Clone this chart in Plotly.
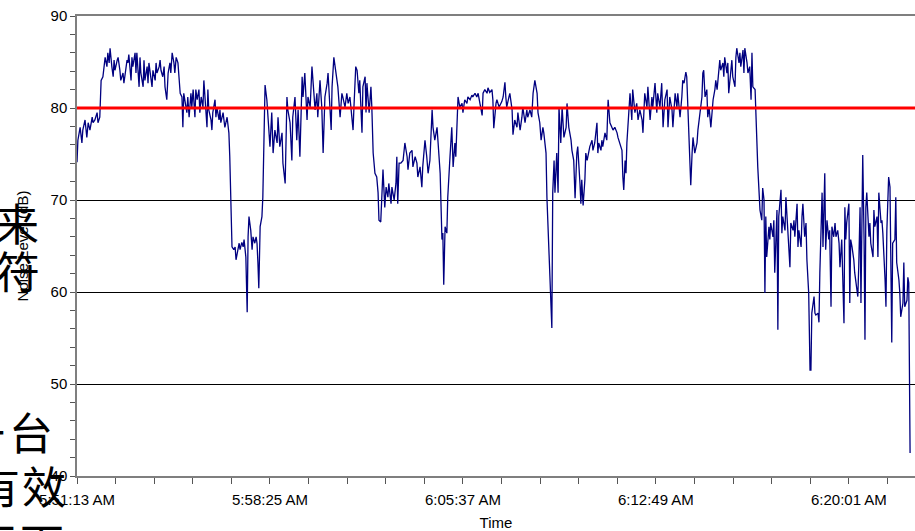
import pandas as pd
import plotly.graph_objects as go

# Noise logger readings: seconds after the first sample, and level in dB
elapsed_s = [
    0, 2, 7, 11, 13, 18, 22, 25, 29, 34, 36, 40, 45, 47, 51, 54, 58, 60, 63, 67,
    69, 72, 74, 78, 81, 83, 85, 90, 92, 96, 98, 103, 105, 107, 112, 114, 116, 121, 123, 125,
    130, 132, 134, 139, 141, 143, 148, 150, 152, 157, 159, 161, 166, 168, 170, 175, 177, 179, 184, 186,
    188, 192, 195, 197, 201, 204, 208, 210, 213, 217, 219, 222, 226, 228, 231, 235, 237, 239, 242, 246,
    248, 251, 255, 257, 260, 264, 266, 269, 273, 275, 278, 282, 284, 287, 291, 293, 295, 300, 302, 304,
    309, 311, 313, 318, 320, 322, 327, 329, 331, 336, 338, 340, 342, 345, 347, 351, 354, 356, 360, 363,
    365, 369, 372, 374, 378, 381, 383, 385, 389, 392, 394, 398, 401, 403, 405, 407, 410, 414, 416, 419,
    421,
    425, 428, 432, 436, 439, 443, 448, 450, 454, 459, 461, 466, 470, 472, 477, 481, 483, 488, 492, 495,
    499, 504, 506, 510, 515, 517, 522, 526, 528, 533, 537, 539, 544, 548, 551, 555, 560, 562, 569, 571,
    575, 580, 584, 589, 593, 595, 600, 604, 607, 611, 618, 620, 624, 627, 631, 633, 638, 640, 645, 647,
    649, 654, 658, 660, 663, 667, 671, 674, 676, 680, 683, 685, 689, 692, 696, 698, 703, 705, 710, 714,
    716, 718, 721, 725, 730, 734, 739, 741, 745, 750, 752, 757, 761, 763, 768, 772, 774, 779, 783, 786,
    790, 795, 797, 801, 806, 808, 813, 817, 819, 821, 824, 828, 830, 835, 839, 842, 846, 848, 851, 853,
    857,
    862, 864, 868, 873, 875, 880, 884, 886, 891, 895, 898, 902, 907, 909, 913, 918, 920, 924, 929, 931,
    933, 938, 940, 945, 951, 954, 958, 960, 962, 967, 969, 974, 976, 980, 985, 987, 992, 996, 998, 1003,
    1007, 1009, 1014, 1018, 1021, 1025, 1030, 1032, 1036, 1039, 1043, 1045, 1050, 1052, 1056, 1059, 1063, 1065, 1068, 1070,
    1074, 1077, 1079, 1083, 1086, 1090, 1095, 1097, 1101, 1106, 1108, 1112, 1115, 1119, 1121, 1126, 1128, 1130, 1133, 1137,
    1139, 1142, 1146, 1148, 1153, 1155, 1159, 1164, 1166, 1168, 1173, 1175, 1177, 1182, 1186, 1189, 1193, 1197, 1200, 1204,
    1209, 1211, 1215, 1220, 1222, 1224, 1227, 1229, 1231, 1236, 1238, 1242, 1244, 1249, 1253, 1256,
    1260, 1265, 1267, 1271, 1276, 1278, 1283, 1287, 1289, 1294, 1298, 1300, 1305, 1309, 1312, 1316, 1321, 1323, 1327, 1332,
    1334, 1339, 1343, 1345, 1350, 1354, 1356, 1359, 1363, 1365, 1368, 1372, 1374, 1377, 1379, 1383, 1388, 1390, 1394, 1399,
    1401, 1403, 1406, 1410, 1412, 1415, 1419, 1421, 1424, 1428, 1430, 1433, 1437, 1439, 1441, 1446, 1448, 1450, 1455, 1457,
    1459, 1464, 1466, 1468, 1473, 1475, 1477, 1482, 1484, 1486, 1491, 1493, 1495, 1500, 1502, 1506, 1509, 1511, 1513, 1518,
    1520, 1522, 1524, 1529, 1533, 1535, 1538, 1540,
    1542, 1544, 1549, 1551, 1553, 1558, 1560, 1562, 1567, 1569, 1571, 1576, 1578, 1580, 1585, 1587, 1589, 1594, 1596, 1598,
    1603, 1605, 1607, 1612, 1614, 1616, 1621, 1623, 1625, 1629, 1632, 1634, 1638, 1641, 1643, 1645, 1650, 1652, 1654, 1659,
    1661, 1663, 1668, 1670, 1672, 1674, 1676, 1679, 1683, 1685, 1688, 1690, 1694, 1697, 1699, 1703, 1706, 1708, 1712, 1715,
    1717, 1719, 1721, 1723, 1728, 1730, 1732, 1735, 1739, 1741, 1744, 1748, 1750, 1753, 1755, 1759, 1762, 1764, 1766, 1768,
    1773, 1775, 1777, 1782, 1784, 1786, 1791, 1793, 1795, 1800, 1802, 1804, 1809, 1811, 1813, 1817, 1820, 1822, 1824, 1826,
    1831, 1833, 1835, 1840, 1842, 1844, 1849, 1851, 1853, 1858, 1860, 1862, 1865,
]

noise_db = [
    74.1, 76.5, 77.9, 76.2, 77.6, 78.7, 76.8, 78.4, 77.6, 79.0, 78.4, 78.7, 79.5, 78.4, 79.0, 83.0, 83.4, 84.1, 85.5, 84.5,
    86.0, 84.9, 86.5, 84.5, 83.4, 85.2, 84.1, 85.2, 85.5, 84.1, 83.0, 83.8, 82.7, 83.4, 85.2, 84.9, 85.8, 83.0, 85.5, 84.5,
    86.0, 83.8, 86.0, 82.3, 85.5, 83.8, 82.3, 85.2, 83.0, 84.5, 82.7, 84.9, 83.4, 82.3, 84.1, 83.0, 84.9, 83.8, 84.5, 85.2,
    84.1, 83.4, 84.5, 82.3, 80.9, 83.8, 84.9, 83.8, 86.0, 84.9, 83.8, 85.5, 84.9, 83.8, 81.6, 81.2, 77.9, 81.6, 80.5, 79.5,
    81.2, 79.0, 81.6, 80.1, 82.0, 79.0, 82.0, 80.9, 82.0, 79.5, 81.2, 80.1, 83.0, 80.5, 77.9, 82.0, 79.8, 78.7, 77.6, 79.5,
    80.9, 79.0, 80.1, 78.7, 79.8, 78.4, 79.5, 78.7, 77.9, 79.0, 77.6, 77.3, 74.7, 68.2, 64.9, 64.6, 64.9, 63.5, 64.6, 65.3,
    64.6, 65.4, 64.9, 65.7, 63.8, 57.8, 66.0, 68.2, 66.7, 64.6, 66.0, 65.3, 66.0, 65.3, 63.2, 60.4, 67.1, 68.2, 70.3, 77.6,
    82.5,
    80.9, 78.7, 75.8, 79.5, 75.1, 77.6, 76.2, 79.0, 75.8, 77.3, 74.0, 71.8, 81.2, 79.8, 78.4, 74.3, 79.0, 81.2, 76.5, 79.8,
    74.7, 83.4, 81.2, 83.8, 78.7, 81.2, 80.1, 84.5, 83.0, 79.8, 81.6, 79.0, 83.0, 80.1, 75.1, 81.2, 82.7, 83.8, 77.6, 82.3,
    85.5, 83.4, 82.3, 79.0, 81.6, 81.2, 80.1, 81.6, 80.5, 81.2, 77.6, 80.1, 84.5, 84.1, 81.6, 83.0, 77.3, 82.3, 83.4, 79.5,
    82.7, 79.5, 82.3, 80.1, 75.1, 72.9, 72.5, 70.8, 67.8, 67.6, 71.1, 73.3, 69.2, 71.4, 70.3, 71.8, 69.6, 71.4, 70.0, 71.8,
    74.7, 69.6, 74.0, 74.0, 74.3, 76.2, 74.7, 73.3, 75.1, 75.4, 73.6, 74.7, 74.0, 72.5, 73.6, 71.4, 73.6, 76.5, 74.7, 72.9,
    74.3, 79.8, 77.9, 76.5, 77.9, 76.5, 72.9, 65.7, 66.4, 60.8, 67.1, 66.4, 70.3, 74.7, 77.9, 73.6, 76.2, 74.7, 79.8, 81.2,
    80.1,
    80.5, 79.5, 80.9, 80.5, 81.2, 80.9, 81.4, 81.2, 81.6, 81.2, 81.6, 80.5, 79.2, 81.6, 82.0, 81.6, 82.2, 81.7, 82.0, 80.9,
    77.8, 80.5, 80.9, 80.1, 80.7, 81.2, 82.8, 81.2, 80.1, 81.2, 81.6, 79.8, 77.1, 78.7, 77.9, 79.5, 77.6, 79.0, 80.1, 78.4,
    79.8, 79.0, 79.8, 79.0, 81.6, 83.0, 81.6, 79.5, 78.4, 76.5, 77.9, 77.3, 75.1, 70.3, 65.3, 61.3, 56.1, 70.8, 74.3, 70.8,
    75.1, 70.8, 80.1, 76.2, 80.1, 76.8, 77.9, 80.5, 77.9, 76.5, 75.4, 74.3, 70.2, 75.1, 75.8, 71.8, 69.6, 72.2, 69.4, 72.2,
    75.1, 74.3, 75.4, 75.8, 76.5, 75.4, 76.2, 78.4, 75.1, 76.2, 75.4, 76.5, 75.8, 77.3, 76.5, 80.9, 78.4, 77.9, 77.6, 77.9,
    77.3, 76.8, 76.2, 75.4, 72.5, 71.1, 74.3, 72.9, 76.2, 79.8, 81.6, 78.7, 82.0, 79.5, 80.5, 78.7,
    79.8, 78.7, 77.3, 81.6, 80.1, 82.3, 78.7, 81.2, 80.1, 82.7, 79.5, 81.6, 80.1, 82.7, 77.9, 80.9, 82.0, 77.9, 81.2, 79.8,
    77.9, 81.6, 80.1, 81.6, 79.0, 81.2, 83.0, 82.7, 83.9, 83.4, 79.5, 74.7, 71.6, 75.1, 76.8, 75.1, 76.2, 77.6, 79.5, 81.2,
    83.8, 84.1, 81.2, 82.0, 79.0, 80.1, 77.9, 79.0, 80.9, 82.0, 83.0, 82.0, 83.8, 85.2, 84.1, 84.9, 83.4, 85.5, 83.8, 84.9,
    81.6, 84.1, 85.2, 83.4, 82.3, 85.5, 86.5, 84.9, 86.0, 84.5, 86.3, 83.8, 86.5, 84.9, 83.8, 84.5, 80.9, 86.0, 82.3, 82.0,
    78.7, 75.4, 73.6, 68.9, 67.8, 71.3, 70.0, 59.9,
    68.2, 63.8, 67.1, 65.7, 67.5, 66.0, 67.8, 62.1, 68.9, 55.9, 68.2, 71.1, 66.4, 68.2, 66.7, 70.3, 68.6, 65.3, 62.7, 67.5,
    66.7, 67.8, 66.0, 69.6, 64.9, 66.7, 64.9, 68.2, 69.6, 66.0, 67.5, 63.5, 59.9, 51.5, 51.5, 57.7, 59.5, 57.7, 57.5, 57.7,
    56.7, 62.1, 70.8, 64.9, 70.8, 72.9, 64.6, 67.8, 65.7, 66.7, 58.4, 67.1, 66.0, 67.5, 66.0, 66.7, 65.3, 62.7, 65.7, 61.3,
    56.6, 69.2, 65.7, 67.5, 69.6, 58.8, 65.7, 64.9, 63.5, 62.1, 61.0, 59.5, 62.7, 69.2, 58.8, 74.9, 65.7, 54.8, 69.2, 70.8,
    66.0, 67.5, 65.3, 63.8, 68.9, 67.1, 68.2, 63.8, 70.8, 67.5, 67.8, 66.4, 61.3, 58.4, 66.7, 72.5, 71.4, 65.3, 54.5, 65.3,
    65.7, 70.3, 63.2, 61.3, 59.9, 57.3, 58.8, 63.2, 58.4, 59.1, 61.6, 61.0, 42.5,
]

tick_labels = ["5:51:13 AM", "5:58:25 AM", "6:05:37 AM", "6:12:49 AM", "6:20:01 AM"]
tick_step_s = 432          # 7 min 12 s between labelled ticks
minor_step_s = 86.4        # five minor divisions per labelled step
limit_db = 80
y_range = [40, 90]
window_s = 1876

start = pd.Timestamp("2000-01-01 05:51:13")
times = start + pd.to_timedelta(elapsed_s, unit="s")
tick_vals = [start + pd.Timedelta(seconds=tick_step_s * k) for k in range(len(tick_labels))]

W, H = 915, 531
L, R, T, B = 77, 0, 16, 55
PW, PH = W - L - R, H - T - B

def px(x):
    return (x - L) / PW

def py(y):
    return (H - B - y) / PH

fig = go.Figure()
fig.add_trace(go.Scatter(
    x=times, y=noise_db, mode="lines",
    line=dict(color="#000080", width=1.3),
    hoverinfo="skip", showlegend=False,
))
fig.add_hline(y=limit_db, line=dict(color="#ff0000", width=3), layer="above")

axis_font = dict(family="Liberation Sans, Arial, sans-serif", size=15, color="#000000")

fig.update_xaxes(
    type="date",
    range=[start, start + pd.Timedelta(seconds=window_s)],
    tickmode="array", tickvals=tick_vals, ticktext=tick_labels,
    ticks="outside", ticklen=6, tickcolor="#555555", tickwidth=1,
    ticklabelstandoff=3,
    minor=dict(ticks="outside", ticklen=6, tickcolor="#555555",
               dtick=minor_step_s * 1000, tick0=start, showgrid=False),
    showline=True, linecolor="#7f7f7f", linewidth=1.5, mirror=True,
    showgrid=False, zeroline=False,
    tickfont=axis_font,
    title=dict(text="Time", font=axis_font, standoff=12),
)
fig.update_yaxes(
    range=y_range, dtick=10, tick0=0,
    ticks="outside", ticklen=5, tickcolor="#555555", tickwidth=1,
    minor=dict(ticks="outside", ticklen=5, tickcolor="#555555", dtick=2, showgrid=False),
    showline=True, linecolor="#7f7f7f", linewidth=1.5,
    showgrid=True, gridcolor="#000000", gridwidth=1, zeroline=False,
    tickfont=axis_font,
    title=dict(text="Noise Level (dB)", font=axis_font, standoff=18),
)

# Large characters of the surrounding page text, overlapping the left edge
cjk_font = dict(family="Noto Sans CJK SC", size=44, color="#000000")
page_chars = [
    ("来", 17, 222),
    ("符", 18, 270),
    ("一", -17, 431),
    ("台", 31, 431),
    ("有", -2, 485),
    ("效", 44, 485),
    ("天", -4, 542),
    ("下", 42, 542),
]
for ch, cx, cy in page_chars:
    fig.add_annotation(
        text=ch, xref="paper", yref="paper", x=px(cx), y=py(cy),
        xanchor="center", yanchor="middle", showarrow=False, font=cjk_font,
    )

fig.update_layout(
    width=W, height=H,
    margin=dict(l=L, r=R, t=T, b=B),
    paper_bgcolor="white", plot_bgcolor="white",
    font=axis_font,
)

fig.write_html("out.html")
